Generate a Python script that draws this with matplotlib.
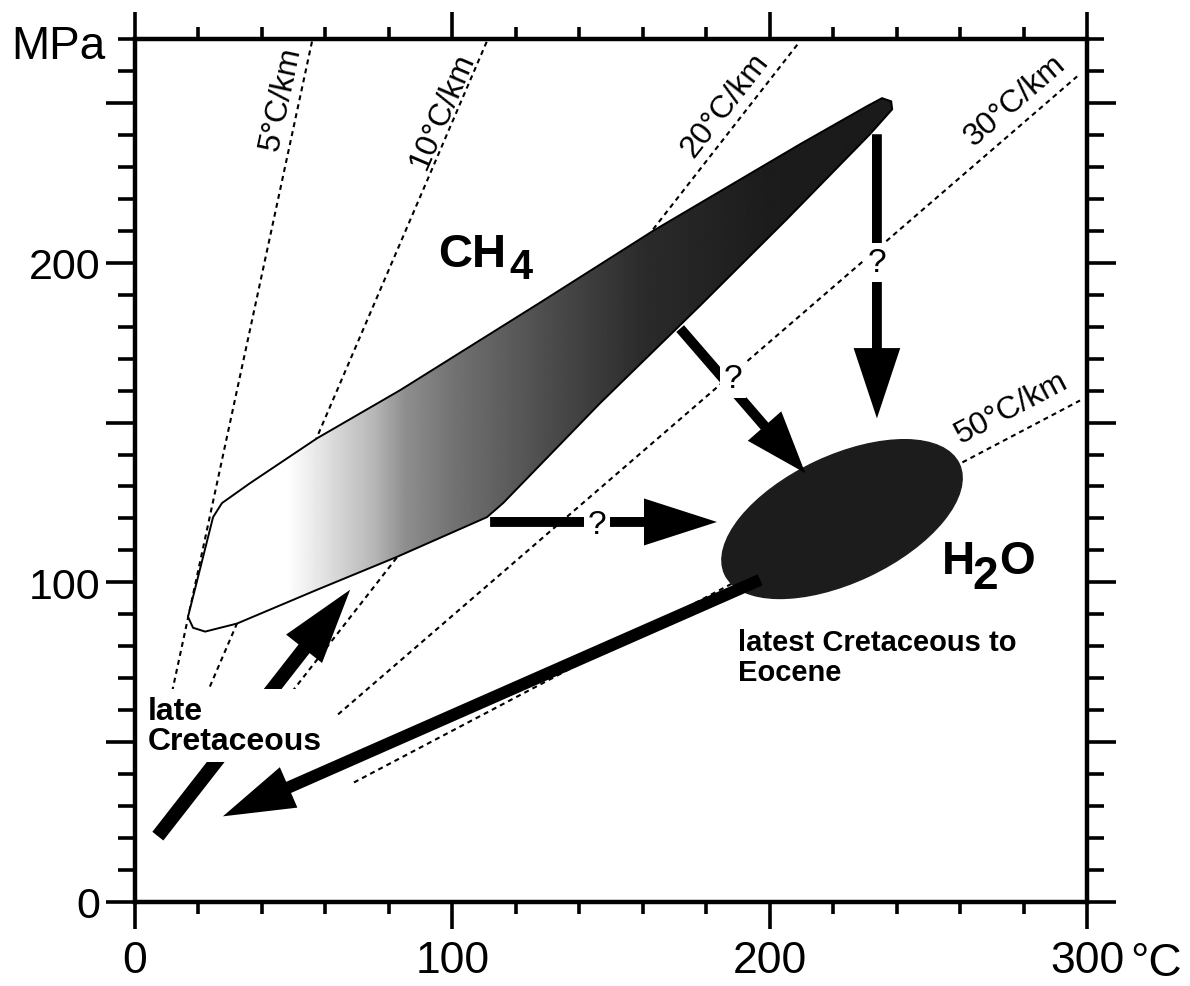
import numpy as np
import matplotlib
matplotlib.use('Agg')
import matplotlib.pyplot as plt
from matplotlib.patches import Polygon, Ellipse, FancyArrow
from matplotlib.ticker import FixedLocator, FixedFormatter, MultipleLocator

plt.rcParams['font.family'] = ['Liberation Sans', 'DejaVu Sans']

# --- axes ---
x_major = [0, 100, 200, 300]
x_major_labels = ['0', '100', '200', '300']
y_major = [0, 50, 100, 150, 200, 250]
y_major_labels = ['0', '', '100', '', '200', '']

# --- geothermal gradients (lower end / upper end, T in °C, P in MPa) ---
grad_names = ['5°C/km', '10°C/km', '20°C/km', '30°C/km', '50°C/km']
grad_T0 = [11.7, 23.6, 49.5, 64.0, 69.0]
grad_P0 = [65.8, 67.4, 65.8, 58.7, 37.4]
grad_T1 = [55.8, 110.9, 209.0, 296.9, 297.8]
grad_P1 = [269.3, 269.3, 268.6, 258.3, 156.9]
grad_label_T = [46.0, 97.0, 186.0, 277.3, 276.1]
grad_label_P = [251.5, 247.7, 249.6, 250.9, 154.8]

# --- CH4 field outline ---
ch4_T = [16.7, 24.6, 27.4, 36.2, 57.4, 83.5, 127.6, 163.3, 209.6, 230.7, 235.4,
         238.3, 238.6, 231.6, 205.5, 178.1, 146.5, 116.0, 110.9, 82.6, 57.4,
         32.1, 22.1, 18.3]
ch4_P = [89.2, 120.4, 124.8, 131.0, 145.1, 160.1, 187.5, 210.0, 237.1, 249.0, 251.5,
         250.5, 248.0, 240.2, 213.7, 186.6, 156.0, 124.8, 120.4, 108.0, 97.7,
         87.1, 84.6, 85.8]

# --- H2O field (ellipse) ---
h2o_T, h2o_P = 222.8, 119.8
h2o_w, h2o_h, h2o_angle = 81.5, 39.5, 25

# --- arrows: tail -> tip ---
arr_tail_T = [7.2, 197.0, 111.9, 171.8, 233.8]
arr_tail_P = [20.6, 100.8, 118.9, 179.4, 240.2]
arr_tip_T = [67.8, 27.7, 183.4, 211.2, 233.8]
arr_tip_P = [97.7, 26.8, 118.9, 134.2, 151.3]
arr_shaft = [4.4, 3.8, 3.1, 3.2, 3.1]
arr_head_w = [14.4, 13.8, 14.7, 14.0, 14.7]
arr_head_l = [23.5, 22.6, 23.0, 19.5, 22.0]

# question marks on the uncertain paths
q_T = [145.6, 188.5, 233.8]
q_P = [118.0, 163.8, 200.0]

# shading of the CH4 field (temperature -> gray level)
shade_T = [0, 48, 60, 75, 85, 100, 130, 160, 200, 300]
shade_gray = [1.0, 1.0, 0.88, 0.72, 0.56, 0.45, 0.30, 0.17, 0.11, 0.09]

fig = plt.figure(figsize=(11.9, 9.87), dpi=100)
ax = fig.add_axes([135 / 1190, 84 / 987, 952 / 1190, 863 / 987])
ax.set_xlim(0, 300)
ax.set_ylim(0, 270)

# geotherms
for i in range(len(grad_names)):
    ax.plot([grad_T0[i], grad_T1[i]], [grad_P0[i], grad_P1[i]], color='black',
            lw=1.5, linestyle=(0, (2.4, 2.0)), zorder=1)

# CH4 field with gradient fill
poly = Polygon(np.column_stack([ch4_T, ch4_P]), closed=True, facecolor='none',
               edgecolor='black', lw=1.4, zorder=3)
ax.add_patch(poly)
tt = np.linspace(0, 300, 900)
img = np.tile(np.interp(tt, shade_T, shade_gray), (2, 1))
im = ax.imshow(img, extent=(0, 300, 0, 270), origin='lower', cmap='gray', vmin=0,
               vmax=1, aspect='auto', interpolation='bilinear', zorder=2)
im.set_clip_path(poly)

# H2O field
ax.add_patch(Ellipse((h2o_T, h2o_P), h2o_w, h2o_h, angle=h2o_angle,
                     facecolor='#1c1c1c', edgecolor='#1c1c1c', zorder=2))

# arrows
for i in range(len(arr_tail_T)):
    ax.add_patch(FancyArrow(arr_tail_T[i], arr_tail_P[i],
                            arr_tip_T[i] - arr_tail_T[i], arr_tip_P[i] - arr_tail_P[i],
                            width=arr_shaft[i], head_width=arr_head_w[i],
                            head_length=arr_head_l[i], length_includes_head=True,
                            facecolor='black', edgecolor='none', zorder=4))

for t, p in zip(q_T, q_P):
    ax.text(t, p, '?', fontsize=24, ha='center', va='center', zorder=5,
            bbox=dict(boxstyle='square,pad=0.12', facecolor='white', edgecolor='none'))

ax.set_xlim(0, 300)
ax.set_ylim(0, 270)

# gradient labels, rotated along their lines
for i in range(len(grad_names)):
    a = ax.transData.transform([(grad_T0[i], grad_P0[i]), (grad_T1[i], grad_P1[i])])
    ang = np.degrees(np.arctan2(a[1, 1] - a[0, 1], a[1, 0] - a[0, 0]))
    ax.text(grad_label_T[i], grad_label_P[i], grad_names[i], fontsize=23,
            rotation=ang, rotation_mode='anchor', ha='center', va='center', zorder=5)

# field labels
ax.text(95.5, 199.1, 'CH', fontsize=34, fontweight='bold', ha='left', va='baseline')
ax.annotate('4', xy=(95.5, 199.1), xytext=(51, -9), textcoords='offset points',
            fontsize=30, fontweight='bold', ha='left', va='baseline')
ax.text(254.3, 103.0, 'H', fontsize=33, fontweight='bold', ha='left', va='baseline')
ax.annotate('2', xy=(254.3, 103.0), xytext=(22, -11), textcoords='offset points',
            fontsize=33, fontweight='bold', ha='left', va='baseline')
ax.annotate('O', xy=(254.3, 103.0), xytext=(41, 0), textcoords='offset points',
            fontsize=33, fontweight='bold', ha='left', va='baseline')

ax.text(4.1, 64.5, 'late\nCretaceous', fontsize=23, fontweight='bold', ha='left',
        va='top', linespacing=1.0, zorder=6,
        bbox=dict(boxstyle='square,pad=0.2', facecolor='white', edgecolor='none'))
ax.text(190.0, 85.8, 'latest Cretaceous to\nEocene', fontsize=21, fontweight='bold',
        ha='left', va='top', linespacing=1.1, zorder=6)

# axes frame and ticks
for s in ax.spines.values():
    s.set_linewidth(3.2)
ax.xaxis.set_major_locator(FixedLocator(x_major))
ax.xaxis.set_major_formatter(FixedFormatter(x_major_labels))
ax.xaxis.set_minor_locator(MultipleLocator(20))
ax.yaxis.set_major_locator(FixedLocator(y_major))
ax.yaxis.set_major_formatter(FixedFormatter(y_major_labels))
ax.yaxis.set_minor_locator(MultipleLocator(10))
ax.tick_params(axis='x', which='major', direction='out', length=19.5, width=2.6,
               top=True, bottom=True, pad=8, labelsize=32)
ax.tick_params(axis='x', which='minor', direction='out', length=8.6, width=2.6,
               top=True, bottom=True)
ax.tick_params(axis='y', which='major', direction='out', length=21, width=2.6,
               left=True, right=True, pad=4, labelsize=31)
ax.tick_params(axis='y', which='minor', direction='out', length=12, width=2.6,
               left=True, right=True)

ax.annotate('MPa', xy=(0, 270), xytext=(-21, -5), textcoords='offset points',
            fontsize=33, ha='right', va='center', annotation_clip=False)
ax.annotate('°C', xy=(300, 0), xytext=(31, -28), textcoords='offset points',
            fontsize=33, ha='left', va='top', annotation_clip=False)

fig.savefig('out.png', dpi=100, facecolor='white')
